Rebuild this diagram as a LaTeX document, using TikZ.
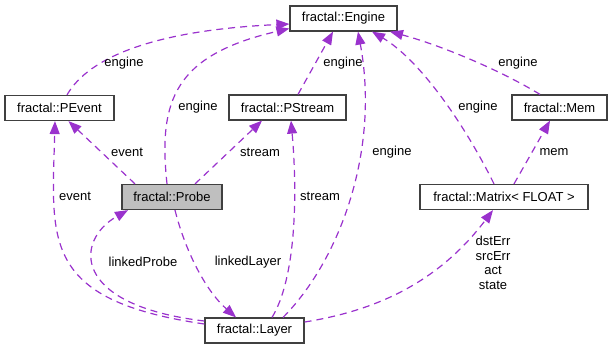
\documentclass[tikz,border=0pt]{standalone}
\usepackage{fontspec}
\setmainfont{Liberation Sans}
\usetikzlibrary{arrows.meta}
\definecolor{edgecol}{HTML}{9A32CD}
\definecolor{boxline}{HTML}{404040}
\begin{document}
\begin{tikzpicture}[x=1pt,y=-1pt,
  font=\fontsize{13}{15}\selectfont,
  cls/.style={draw=boxline,line width=1.2pt,fill=white,minimum height=25pt,inner sep=0pt},
  uses/.style={draw=edgecol,line width=1.2pt,dash pattern=on 7pt off 5pt,
    -{Triangle[length=13pt,width=10pt,fill=edgecol]}},
  lbl/.style={inner sep=0pt,align=center}]
\useasboundingbox (0,0) rectangle (613,349);

% classes
\node[cls,minimum width=107pt] (engine)  at (343.5,18.5) {fractal::Engine};
\node[cls,minimum width=109pt] (pevent)  at (59.5,108)   {fractal::PEvent};
\node[cls,minimum width=117pt] (pstream) at (287.5,107.5) {fractal::PStream};
\node[cls,minimum width=95pt]  (mem)     at (559.5,107.5) {fractal::Mem};
\node[cls,minimum width=100pt,fill=black!25] (probe) at (172,197) {fractal::Probe};
\node[cls,minimum width=168pt] (matrix)  at (504,197)   {fractal::Matrix< FLOAT >};
\node[cls,minimum width=99pt]  (layer)   at (254.5,330.5) {fractal::Layer};

% usage relations
\draw[uses] ([xshift=7.5pt]pevent.north) .. controls (90,55) and (160,30) .. ([yshift=-5.5pt]engine.west);
\draw[uses] ([xshift=-5pt]probe.north) .. controls (158,100) and (175,55) .. ([yshift=-10pt]engine.west);
\draw[uses] ([xshift=10.5pt]pstream.north) -- ([xshift=-10.5pt]engine.south);
\draw[uses] ([xshift=28.5pt]layer.north) .. controls (340,260) and (380,150) .. ([xshift=14.5pt]engine.south);
\draw[uses] ([xshift=-10pt]matrix.north) .. controls (465,125) and (420,60) .. ([xshift=28.5pt]engine.south);
\draw[uses] ([xshift=-19.5pt]mem.north) .. controls (500,70) and (440,45) .. ([xshift=46.5pt]engine.south);
\draw[uses] ([xshift=-37pt]probe.north) -- ([xshift=9pt]pevent.south);
\draw[uses] ([yshift=6.5pt]layer.west) .. controls (40,300) and (52,240) .. ([xshift=-4.5pt]pevent.south);
\draw[uses] ([xshift=23pt]probe.north) -- ([xshift=-25.5pt]pstream.south);
\draw[uses] ([xshift=17.5pt]layer.north) .. controls (295,280) and (298,200) .. ([xshift=3.5pt]pstream.south);
\draw[uses] ([yshift=9.5pt]layer.west) .. controls (70,305) and (75,240) .. ([xshift=-44pt]probe.south);
\draw[uses] ([xshift=3pt]probe.south) .. controls (185,250) and (205,290) .. ([xshift=-18.5pt]layer.north);
\draw[uses] ([yshift=8.5pt]layer.east) .. controls (380,310) and (440,280) .. ([xshift=-11pt]matrix.south);
\draw[uses] ([xshift=10pt]matrix.north) -- ([xshift=-9.5pt]mem.south);

% relation labels
\node[lbl] (l1)  at (124,63)  {engine};
\node[lbl] (l2)  at (198,107) {engine};
\node[lbl] (l3)  at (343,63)  {engine};
\node[lbl] (l4)  at (392,152) {engine};
\node[lbl] (l5)  at (478,107) {engine};
\node[lbl] (l6)  at (518,63)  {engine};
\node[lbl] (l7)  at (127,152) {event};
\node[lbl] (l8)  at (75,196)  {event};
\node[lbl] (l9)  at (260,152) {stream};
\node[lbl] (l10) at (320,196) {stream};
\node[lbl] (l11) at (143,262) {linkedProbe};
\node[lbl] (l12) at (248,262) {linkedLayer};
\node[lbl] (l13) at (554,152) {mem};
\node[lbl,font=\fontsize{13}{14.5}\selectfont] (l14) at (493,263) {dstErr\\srcErr\\act\\state};
\end{tikzpicture}
\end{document}
